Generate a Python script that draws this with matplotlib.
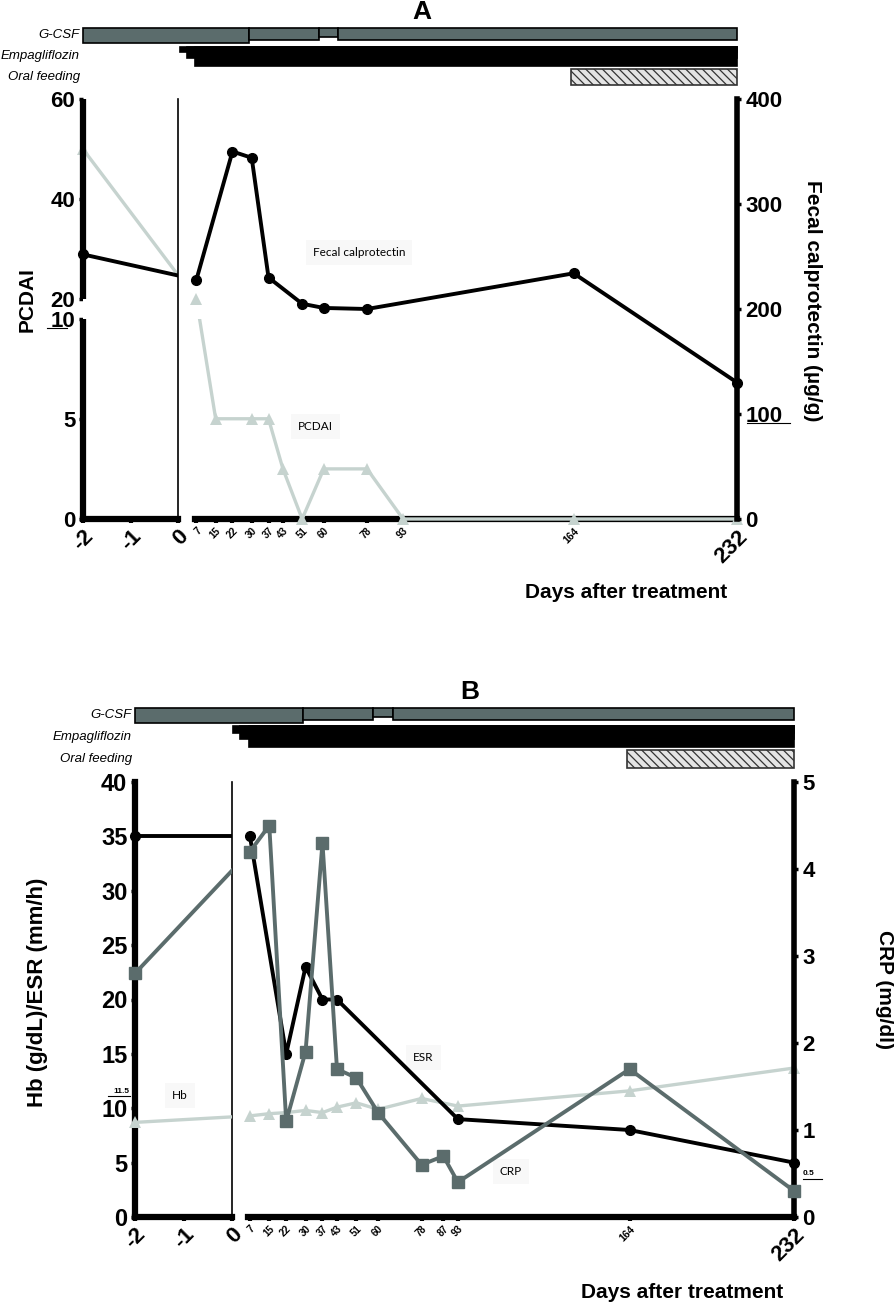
import numpy as np
import matplotlib
matplotlib.use('Agg')
import matplotlib.pyplot as plt
import matplotlib.transforms as mtransforms
from matplotlib.patches import Rectangle
from matplotlib.lines import Line2D
from matplotlib.ticker import NullLocator

plt.rcParams['font.family'] = ['Liberation Sans', 'DejaVu Sans']
plt.rcParams['hatch.linewidth'] = 0.9

# ---------------- data ----------------
# panel A
pre_day = [-2]
pcdai_pre = [50]
calpro_pre = [252]
pcdai_days = [7, 15, 30, 37, 43, 51, 60, 78, 93, 164, 232]
pcdai = [20, 5, 5, 5, 2.5, 0, 2.5, 2.5, 0, 0, 0]
calpro_days = [7, 22, 30, 37, 51, 60, 78, 164, 232]
calpro = [228, 350, 344, 230, 205, 201, 200, 234, 130]
ticks_A = [7, 15, 22, 30, 37, 43, 51, 60, 78, 93, 164, 232]

# panel B
esr_pre = [35]
crp_pre = [2.8]
hb_pre = [8.7]
esr_days = [7, 22, 30, 37, 43, 93, 164, 232]
esr = [35, 15, 23, 20, 20, 9, 8, 5]
crp_days = [7, 15, 22, 30, 37, 43, 51, 60, 78, 87, 93, 164, 232]
crp = [4.2, 4.5, 1.1, 1.9, 4.3, 1.7, 1.6, 1.2, 0.6, 0.7, 0.4, 1.7, 0.3]
hb_days = [7, 15, 22, 30, 37, 43, 51, 60, 78, 93, 164, 232]
hb = [9.3, 9.5, 9.6, 9.8, 9.6, 10.1, 10.5, 9.9, 10.9, 10.2, 11.6, 13.7]
ticks_B = [7, 15, 22, 30, 37, 43, 51, 60, 78, 87, 93, 164, 232]

# treatment periods (days)
gcsf = [(-2, 29), (29, 58), (58, 66), (66, 232)]
empa = [(0, 232), (3, 232), (6.5, 232)]
oral = [(163, 232)]

BLACK = 'black'
LIGHT = '#c6d3cf'
DARK = '#5b6c6c'

W, H = 895, 1303
fig = plt.figure(figsize=(W / 100, H / 100), dpi=100)


def px_axes(x0, y0, x1, y1):
    return fig.add_axes([x0 / W, 1 - y1 / H, (x1 - x0) / W, (y1 - y0) / H])


def pcdai_fwd(v):
    v = np.asarray(v, float)
    return np.where(v <= 10, v, np.where(v < 20, 10 + (v - 10) * 0.095, 10.95 + (v - 20) * 0.25))


def pcdai_inv(u):
    u = np.asarray(u, float)
    return np.where(u <= 10, u, np.where(u < 10.95, 10 + (u - 10) / 0.095, 20 + (u - 10.95) / 0.25))


def clean(ax):
    for s in ['top', 'right', 'left', 'bottom']:
        ax.spines[s].set_visible(False)
    ax.tick_params(which='both', left=False, right=False, bottom=False, top=False, labelleft=False,
                   labelright=False, labelbottom=False)


def bottom_axis(ax, ticks, labels, sizes):
    ax.spines['bottom'].set_visible(True)
    ax.spines['bottom'].set_linewidth(4.5)
    ax.set_xticks(ticks)
    ax.set_xticklabels(labels)
    ax.tick_params(axis='x', bottom=True, labelbottom=True, length=3, width=3, pad=2)
    for lab, fs in zip(ax.get_xticklabels(), sizes):
        lab.set_fontsize(fs)
        lab.set_fontweight('bold')
        lab.set_rotation(45)
        lab.set_ha('right')
        lab.set_va('top')
        lab.set_rotation_mode('anchor')


def right_axis(ax, ticks, size):
    ax.spines['right'].set_visible(True)
    ax.spines['right'].set_linewidth(4)
    ax.set_yticks(ticks)
    ax.set_yticklabels([str(t) for t in ticks], fontsize=size, fontweight='bold')
    ax.tick_params(axis='y', right=True, labelright=True, length=3, width=2.5, pad=3)


def x_in(ax_from, ax_to, x):
    disp = ax_from.transData.transform((x, 1))
    return ax_to.transData.inverted().transform(disp)[0]


def fig_x(axL, axR, d):
    ax = axL if d < 0 else axR
    disp = ax.transData.transform((d, 1))
    return fig.transFigure.inverted().transform(disp)[0]


def bars(axL, axR, row_top, rows):
    # rows: list of (periods, heights_px, face, hatch)
    for top, (periods, hts, face, hatch) in zip(row_top, rows):
        for (d0, d1), hpx in zip(periods, hts):
            x0 = fig_x(axL, axR, d0)
            x1 = fig_x(axL, axR, d1)
            r = Rectangle((x0, 1 - (top + hpx) / H), x1 - x0, hpx / H, transform=fig.transFigure,
                          facecolor=face, edgecolor='black' if hatch is None else '#333333',
                          lw=1.2, hatch=hatch)
            fig.add_artist(r)


def underline(ax, tr_base, yval, x0, x1, dy):
    tr = mtransforms.offset_copy(tr_base, fig=fig, y=-dy, units='dots')
    ax.add_line(Line2D([x0, x1], [yval, yval], transform=tr, color='black', lw=0.8, clip_on=False))


ylab_kw = dict(fontsize=16, fontweight='bold')
note_kw = dict(fontsize=8.5, family=['Lato', 'DejaVu Sans'],
               bbox=dict(fc='#f8f8f8', ec='none', pad=5))

# ---------------- panel A ----------------
aL = px_axes(83, 99, 178, 519)
aR = px_axes(195, 99, 737, 519)
aL.set_xlim(-2, 0)
aR.set_xlim(6.4, 232)
for ax in (aL, aR):
    ax.set_yscale('function', functions=(pcdai_fwd, pcdai_inv))
    ax.set_ylim(0, 60)
aL2 = aL.twinx()
aR2 = aR.twinx()
for ax in (aL2, aR2):
    ax.set_ylim(0, 400)
    clean(ax)
for ax in (aL, aR):
    ax.set_facecolor('none')
    clean(ax)
    ax.yaxis.set_minor_locator(NullLocator())
    ax.axhspan(10, 20, color='white', zorder=3.5, lw=0)

aL.set_yticks([0, 5, 10, 20, 40, 60])
aL.set_yticklabels(['0', '5', '10', '20', '40', '60'], **ylab_kw)
aL.tick_params(axis='y', left=True, labelleft=True, length=3, width=2.5, pad=2.5)
aL.spines['right'].set_visible(True)
aL.spines['right'].set_linewidth(1.2)
aL.spines['right'].set_zorder(5)
# broken left spine
for lo, hi in [(0, 10), (20, 60)]:
    aL.add_line(Line2D([0, 0], [lo, hi], transform=aL.get_yaxis_transform(), color='black',
                       lw=4.5, clip_on=False, solid_capstyle='butt', zorder=5))
bottom_axis(aL, [-2, -1, 0], ['-2', '-1', '0'], [16, 16, 16])
bottom_axis(aR, ticks_A, [str(t) for t in ticks_A], [7] * 10 + [7.5, 16])
right_axis(aR2, [0, 100, 200, 300, 400], 16)

# PCDAI
x7 = x_in(aR, aL, pcdai_days[0])
aL.plot([pre_day[0], x7], [pcdai_pre[0], pcdai[0]], color=LIGHT, lw=2.4, zorder=3)
aL.plot(pre_day, pcdai_pre, '^', color=LIGHT, ms=8, mew=0, clip_on=False, zorder=4)
aR.plot(pcdai_days, pcdai, color=LIGHT, lw=2.4, clip_on=False, zorder=3)
aR.plot(pcdai_days, pcdai, '^', color=LIGHT, ms=8, mew=0, clip_on=False, zorder=4)
# fecal calprotectin
aL2.plot([pre_day[0], x7], [calpro_pre[0], calpro[0]], color=BLACK, lw=2.8)
aL2.plot(pre_day, calpro_pre, 'o', color=BLACK, ms=7, clip_on=False)
aR2.plot(calpro_days, calpro, color=BLACK, lw=2.8, marker='o', ms=7, clip_on=False, zorder=4)

aR2.text(74.6, 254, 'Fecal calprotectin', ha='center', va='center', **note_kw)
aR2.text(56.7, 88, 'PCDAI', ha='center', va='center', **note_kw)
underline(aL, aL.get_yaxis_transform(), 10, -0.38, -0.17, 9)
underline(aR2, aR2.get_yaxis_transform(), 100, 1.018, 1.098, 9)

fig.text(422 / W, 1 - 12 / H, 'A', ha='center', va='center', fontsize=19, fontweight='bold')
fig.text(27 / W, 1 - 300 / H, 'PCDAI', rotation=90, ha='center', va='center', fontsize=15, fontweight='bold')
fig.text(813 / W, 1 - 301 / H, 'Fecal calprotectin (\u00b5g/g)', rotation=270, ha='center', va='center',
         fontsize=15, fontweight='bold')
fig.text(626 / W, 1 - 592 / H, 'Days after treatment', ha='center', va='center', fontsize=15, fontweight='bold')

bars(aL, aR, [28, 47, 69], [(gcsf, [15, 12, 9, 12], DARK, None),
                            (empa, [5, 11, 19], 'black', None),
                            (oral, [16], '#e4e4e4', '\\\\\\\\')])
for lab, yy in zip(['G-CSF', 'Empagliflozin', 'Oral feeding'], [35, 56, 77]):
    fig.text(80 / W, 1 - yy / H, lab, ha='right', va='center', fontsize=9.5, style='italic')

# ---------------- panel B ----------------
bL = px_axes(135, 782, 232, 1217)
bR = px_axes(248, 782, 794, 1217)
bL.set_xlim(-2, 0)
bR.set_xlim(6.2, 232)
for ax in (bL, bR):
    ax.set_ylim(0, 40)
bL2 = bL.twinx()
bR2 = bR.twinx()
for ax in (bL2, bR2):
    ax.set_ylim(0, 5)
    clean(ax)
for ax in (bL, bR):
    ax.set_facecolor('none')
    clean(ax)

bL.spines['left'].set_visible(True)
bL.spines['left'].set_linewidth(4.5)
bL.spines['right'].set_visible(True)
bL.spines['right'].set_linewidth(1.2)
bL.set_yticks(range(0, 41, 5))
bL.set_yticklabels([str(v) for v in range(0, 41, 5)], fontsize=17, fontweight='bold')
bL.tick_params(axis='y', left=True, labelleft=True, length=3, width=2.5, pad=2.5)
bottom_axis(bL, [-2, -1, 0], ['-2', '-1', '0'], [16, 16, 16])
bottom_axis(bR, ticks_B, [str(t) for t in ticks_B], [7] * 11 + [7.5, 16])
right_axis(bR2, list(range(0, 6)), 16)

x7b = x_in(bR, bL, hb_days[0])
# Hb
bL.plot([pre_day[0], x7b], [hb_pre[0], hb[0]], color=LIGHT, lw=2.4, zorder=3)
bL.plot(pre_day, hb_pre, '^', color=LIGHT, ms=8, mew=0, clip_on=False, zorder=4)
bR.plot(hb_days, hb, color=LIGHT, lw=2.4, marker='^', ms=8, mew=0, clip_on=False, zorder=3)
# ESR
bL.plot([pre_day[0], x7b], [esr_pre[0], esr[0]], color=BLACK, lw=2.8, zorder=3)
bL.plot(pre_day, esr_pre, 'o', color=BLACK, ms=7, clip_on=False, zorder=4)
bR.plot(esr_days, esr, color=BLACK, lw=2.8, marker='o', ms=7, clip_on=False, zorder=4)
# CRP
bL2.plot([pre_day[0], x7b], [crp_pre[0], crp[0]], color=DARK, lw=2.8)
bL2.plot(pre_day, crp_pre, 's', color=DARK, ms=8, clip_on=False)
bR2.plot(crp_days, crp, color=DARK, lw=2.8, marker='s', ms=8, clip_on=False, zorder=4)

bL.text(-1.07, 11.2, 'Hb', ha='center', va='center', **note_kw)
bR.text(78.7, 14.7, 'ESR', ha='center', va='center', **note_kw)
bR2.text(114.8, 0.52, 'CRP', ha='center', va='center', **note_kw)
bL.text(-0.06, 11.5, '11.5', transform=bL.get_yaxis_transform(), ha='right', va='center',
        fontsize=6, fontweight='bold')
underline(bL, bL.get_yaxis_transform(), 11.5, -0.28, -0.05, 4)
bR2.text(1.016, 0.5, '0.5', transform=bR2.get_yaxis_transform(), ha='left', va='center',
         fontsize=6, fontweight='bold')
underline(bR2, bR2.get_yaxis_transform(), 0.5, 1.016, 1.051, 5)

fig.text(470 / W, 1 - 692 / H, 'B', ha='center', va='center', fontsize=19, fontweight='bold')
fig.text(38 / W, 1 - 992 / H, 'Hb (g/dL)/ESR (mm/h)', rotation=90, ha='center', va='center',
         fontsize=16, fontweight='bold')
fig.text(885 / W, 1 - 990 / H, 'CRP (mg/dl)', rotation=270, ha='center', va='center',
         fontsize=15, fontweight='bold')
fig.text(682 / W, 1 - 1292 / H, 'Days after treatment', ha='center', va='center', fontsize=15, fontweight='bold')

bars(bL, bR, [708, 726, 750], [(gcsf, [15, 12, 9, 12], DARK, None),
                               (empa, [7, 13, 21], 'black', None),
                               (oral, [18], '#e4e4e4', '\\\\\\\\')])
for lab, yy in zip(['G-CSF', 'Empagliflozin', 'Oral feeding'], [715, 737, 759]):
    fig.text(132 / W, 1 - yy / H, lab, ha='right', va='center', fontsize=9.5, style='italic')

fig.savefig('out.png', dpi=100)
